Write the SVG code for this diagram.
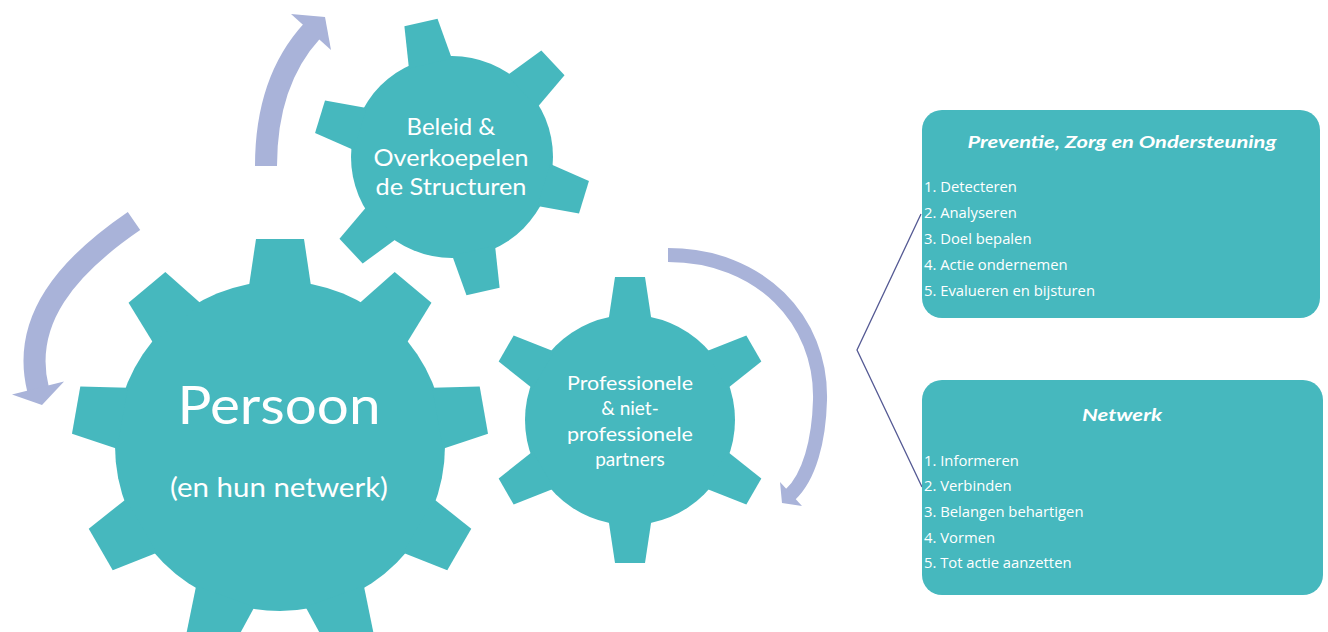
<svg xmlns="http://www.w3.org/2000/svg" xmlns:xlink="http://www.w3.org/1999/xlink" width="1328" height="632" viewBox="0 0 1328 632">
<style>
.gear{fill:#46B8BE}
.box{fill:#46B8BE}
.gt{fill:#ffffff;font-family:Lato,"Open Sans",sans-serif;text-anchor:middle}
.bt{fill:#ffffff;font-family:"Open Sans",Lato,sans-serif;font-size:14.8px}
.bh{fill:#ffffff;font-family:Lato,"Open Sans",sans-serif;font-size:17.5px;font-weight:bold;font-style:italic;text-anchor:middle}
.shaft{fill:none;stroke:#A9B3D9;stroke-linecap:butt}
.head{fill:#A9B3D9}
.br{fill:none;stroke:#555A94;stroke-width:1.3}
</style>
<defs>
<polygon id="toothL" points="-31,-160 -24,-207 24,-207 31,-160"/>
<polygon id="toothM" points="-21.5,-100 -15,-143 15,-143 21.5,-100"/>
<polygon id="toothS" points="-22,-96 -17,-138 17,-138 22,-96"/>
</defs>
<rect width="1328" height="632" fill="#ffffff"/>

<g id="connectors">
<path class="shaft" stroke-width="22" d="M266,166 C266,95 290,55 312,31"/>
<polygon class="head" points="331,50 291,14 325,17"/>
<path class="shaft" stroke-width="22" d="M134,221 C68,266 21,320 38,389"/>
<polygon class="head" points="64,381.5 12,394.5 42,405"/>
<path class="shaft" stroke-width="14" d="M668,255 C760,255 822,320 820,400 C819,440 809.5,477 790,495"/>
<polygon class="head" points="802,506 780,482 782,503"/>
<polyline class="br" points="921,214 857,350 922,487"/>
</g>

<g id="gear-beleid" class="gear">
<circle cx="452" cy="157" r="101"/>
<use xlink:href="#toothS" href="#toothS" transform="translate(452,157) rotate(-13)"/>
<use xlink:href="#toothS" href="#toothS" transform="translate(452,157) rotate(47)"/>
<use xlink:href="#toothS" href="#toothS" transform="translate(452,157) rotate(107)"/>
<use xlink:href="#toothS" href="#toothS" transform="translate(452,157) rotate(167)"/>
<use xlink:href="#toothS" href="#toothS" transform="translate(452,157) rotate(227)"/>
<use xlink:href="#toothS" href="#toothS" transform="translate(452,157) rotate(287)"/>
<text class="gt" font-size="24" x="451" y="135">Beleid &amp;</text>
<text class="gt" font-size="24" x="451" y="166" textLength="155" lengthAdjust="spacingAndGlyphs">Overkoepelen</text>
<text class="gt" font-size="24" x="451" y="195" textLength="151" lengthAdjust="spacingAndGlyphs">de Structuren</text>
</g>

<g id="gear-persoon" class="gear">
<circle cx="280" cy="446" r="165"/>
<use xlink:href="#toothL" href="#toothL" transform="translate(280,446) rotate(0)"/>
<use xlink:href="#toothL" href="#toothL" transform="translate(280,446) rotate(40)"/>
<use xlink:href="#toothL" href="#toothL" transform="translate(280,446) rotate(80)"/>
<use xlink:href="#toothL" href="#toothL" transform="translate(280,446) rotate(120)"/>
<use xlink:href="#toothL" href="#toothL" transform="translate(280,446) rotate(160)"/>
<use xlink:href="#toothL" href="#toothL" transform="translate(280,446) rotate(200)"/>
<use xlink:href="#toothL" href="#toothL" transform="translate(280,446) rotate(240)"/>
<use xlink:href="#toothL" href="#toothL" transform="translate(280,446) rotate(280)"/>
<use xlink:href="#toothL" href="#toothL" transform="translate(280,446) rotate(320)"/>
<text class="gt" font-size="52" x="279" y="424" textLength="203" lengthAdjust="spacingAndGlyphs">Persoon</text>
<text class="gt" font-size="26" x="279" y="497" textLength="218" lengthAdjust="spacingAndGlyphs">(en hun netwerk)</text>
</g>

<g id="gear-partners" class="gear">
<circle cx="630" cy="420" r="105"/>
<use xlink:href="#toothM" href="#toothM" transform="translate(630,420) rotate(0)"/>
<use xlink:href="#toothM" href="#toothM" transform="translate(630,420) rotate(60)"/>
<use xlink:href="#toothM" href="#toothM" transform="translate(630,420) rotate(120)"/>
<use xlink:href="#toothM" href="#toothM" transform="translate(630,420) rotate(180)"/>
<use xlink:href="#toothM" href="#toothM" transform="translate(630,420) rotate(240)"/>
<use xlink:href="#toothM" href="#toothM" transform="translate(630,420) rotate(300)"/>
<text class="gt" font-size="19" x="630" y="390" textLength="126" lengthAdjust="spacingAndGlyphs">Professionele</text>
<text class="gt" font-size="19" x="630" y="415">&amp; niet-</text>
<text class="gt" font-size="19" x="630" y="441" textLength="126" lengthAdjust="spacingAndGlyphs">professionele</text>
<text class="gt" font-size="19" x="630" y="466">partners</text>
</g>

<g id="box-preventie">
<rect class="box" x="922" y="110" width="398" height="208" rx="20" ry="20"/>
<text class="bh" x="1122" y="148" textLength="309" lengthAdjust="spacingAndGlyphs">Preventie, Zorg en Ondersteuning</text>
<text class="bt" x="924" y="192">1. Detecteren</text>
<text class="bt" x="924" y="218">2. Analyseren</text>
<text class="bt" x="924" y="244">3. Doel bepalen</text>
<text class="bt" x="924" y="270">4. Actie ondernemen</text>
<text class="bt" x="924" y="296">5. Evalueren en bijsturen</text>
</g>

<g id="box-netwerk">
<rect class="box" x="922" y="380" width="401" height="215" rx="20" ry="20"/>
<text class="bh" x="1122" y="421" textLength="80" lengthAdjust="spacingAndGlyphs">Netwerk</text>
<text class="bt" x="924" y="466">1. Informeren</text>
<text class="bt" x="924" y="491">2. Verbinden</text>
<text class="bt" x="924" y="517">3. Belangen behartigen</text>
<text class="bt" x="924" y="543">4. Vormen</text>
<text class="bt" x="924" y="568">5. Tot actie aanzetten</text>
</g>
</svg>
